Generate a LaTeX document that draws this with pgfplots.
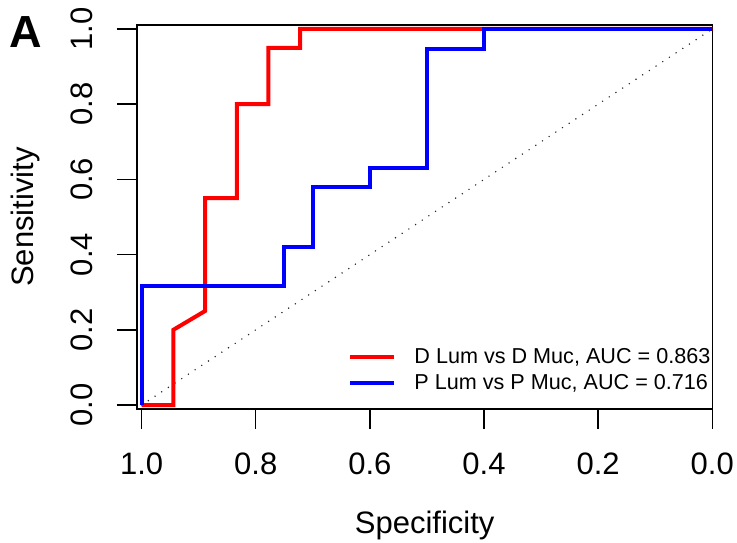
\documentclass[border=0pt]{standalone}
\usepackage{fontspec}
\setmainfont{Liberation Sans}
\usepackage{pgfplots}
\pgfplotsset{compat=1.18}
\begin{document}
\begin{tikzpicture}
\useasboundingbox (0,0) rectangle (737pt,543pt);
\begin{axis}[
    at={(137pt,134pt)}, anchor=south west,
    scale only axis, width=575.3pt, height=384pt,
    x dir=reverse,
    xmin=0, xmax=1.0082, ymin=-0.0106, ymax=1.0106,
    xtick={0,0.2,0.4,0.6,0.8,1}, ytick={0,0.2,0.4,0.6,0.8,1},
    xtick pos=bottom, ytick pos=left,
    tick align=outside, major tick length=20pt,
    tick style={black, line width=1.4pt},
    axis line style={black, line width=1.4pt},
    /pgf/number format/fixed, /pgf/number format/fixed zerofill,
    /pgf/number format/precision=1, /pgf/number format/assume math mode=true,
    tick label style={font=\fontsize{31}{37}\selectfont, inner sep=0pt},
    y tick label style={rotate=90, anchor=south},
    x tick label style={anchor=north},
    ticklabel shift=24pt,
    xlabel={Specificity}, ylabel={Sensitivity},
    label style={font=\fontsize{31}{37}\selectfont},
    xlabel style={at={(axis description cs:0.5,-0.3025)}, anchor=center},
    ylabel style={at={(axis description cs:-0.193,0.5)}, anchor=center, rotate=0},
    legend style={draw=none, fill=none, inner sep=0pt,
        at={(axis description cs:0.3672,0.1020)}, anchor=west,
        font=\fontsize{21.6}{25}\selectfont,
        nodes={inner sep=0pt}, column sep=18pt, row sep=10pt},
    legend cell align=left,
    legend image code/.code={\draw[#1] (0pt,0pt) -- (44pt,0pt);},
]
% chance line
\addplot[forget plot, black!85, line width=1.6pt, line cap=round,
    dash pattern=on 0pt off 8pt] coordinates {(1,0) (0,1)};
% D Lum vs D Muc
\addplot[red, line width=4pt] coordinates {
    (1,0) (0.9444,0) (0.9444,0.2) (0.8889,0.25) (0.8889,0.55)
    (0.8333,0.55) (0.8333,0.8) (0.7778,0.8) (0.7778,0.95)
    (0.7222,0.95) (0.7222,1) (0,1)};
\addlegendentry{D Lum vs D Muc, AUC = 0.863}
% P Lum vs P Muc
\addplot[blue, line width=4pt] coordinates {
    (1,0) (1,0.3158) (0.75,0.3158) (0.75,0.4211) (0.7,0.4211)
    (0.7,0.5789) (0.6,0.5789) (0.6,0.6316) (0.5,0.6316)
    (0.5,0.9474) (0.4,0.9474) (0.4,1) (0,1)};
\addlegendentry{P Lum vs P Muc, AUC = 0.716}
\end{axis}
\node[font=\bfseries\fontsize{45}{50}\selectfont, inner sep=0pt] at (26pt,511pt) {A};
\end{tikzpicture}
\end{document}
